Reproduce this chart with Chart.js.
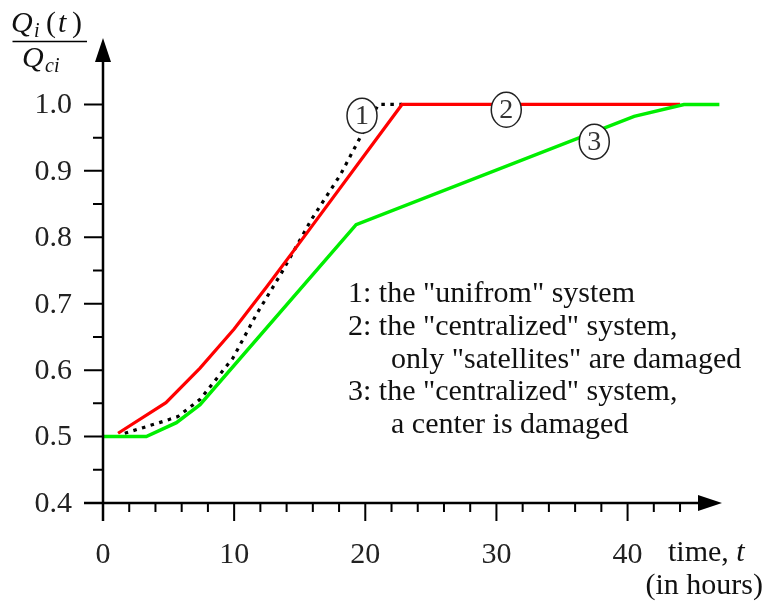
<!DOCTYPE html>
<html>
<head>
<meta charset="utf-8">
<script src="https://cdn.jsdelivr.net/npm/chart.js@4.4.1/dist/chart.umd.min.js"></script>
<style>
html,body{margin:0;padding:0;background:#fff;}
#wrap{width:764px;height:606px;position:relative;}
</style>
</head>
<body>
<div id="wrap"><canvas id="c" width="764" height="606"></canvas></div>
<script>
// ---- data ----
const curve1T = [1.66, 4.3, 5.7, 7.4, 9.9, 11.7, 13.6, 15.9, 18.1, 19.6, 21.0, 22.8];
const curve1V = [0.505, 0.521, 0.530, 0.556, 0.618, 0.684, 0.746, 0.827, 0.894, 0.950, 1.0, 1.0];
const curve2T = [1.15, 4.8, 7.4, 10.0, 12.5, 15.0, 22.8, 44.0];
const curve2V = [0.505, 0.551, 0.603, 0.662, 0.726, 0.792, 1.0, 1.0];
const curve3T = [0, 3.3, 5.6, 7.4, 19.3, 40.5, 44.3, 47.0];
const curve3V = [0.5, 0.5, 0.521, 0.548, 0.819, 0.982, 1.0, 1.0];

const xMajorTicks = [0, 10, 20, 30, 40];
const xMinorTicks = [2,4,6,8,12,14,16,18,22,24,26,28,32,34,36,38,42,44];
const yMajorTicks = [0.4, 0.5, 0.6, 0.7, 0.8, 0.9, 1.0];
const yMinorTicks = [0.45, 0.55, 0.65, 0.75, 0.85, 0.95];
const yTickLabels = ['0.4', '0.5', '0.6', '0.7', '0.8', '0.9', '1.0'];
const xTickLabels = ['0', '10', '20', '30', '40'];

// curve markers: label, t, value
const markerLabels = ['1', '2', '3'];
const markerT = [19.75, 30.75, 37.46];
const markerV = [0.983, 0.992, 0.944];

const legendLines = [
  {text: '1: the "unifrom" system', indent: false},
  {text: '2: the "centralized" system,', indent: false},
  {text: 'only "satellites" are damaged', indent: true},
  {text: '3: the "centralized" system,', indent: false},
  {text: 'a center is damaged', indent: true}
];

const toXY = (ts, vs) => ts.map((t, i) => ({x: t, y: vs[i]}));
const SERIF = '"Liberation Serif", "DejaVu Serif", serif';

const overlay = {
  id: 'overlay',
  afterDatasetsDraw(chart) {
    const ctx = chart.ctx, xs = chart.scales.x, ys = chart.scales.y;
    ctx.save();
    for (let i = 0; i < markerLabels.length; i++) {
      const px = xs.getPixelForValue(markerT[i]);
      const py = ys.getPixelForValue(markerV[i]);
      ctx.beginPath();
      ctx.ellipse(px, py, 15, 17.5, 0, 0, Math.PI * 2);
      ctx.fillStyle = '#fff';
      ctx.fill();
      ctx.lineWidth = 1.5;
      ctx.strokeStyle = '#222';
      ctx.stroke();
      ctx.fillStyle = '#333';
      ctx.font = '28px ' + SERIF;
      ctx.textAlign = 'center';
      ctx.textBaseline = 'middle';
      ctx.fillText(markerLabels[i], px, py + 1);
    }
    ctx.restore();
  },
  afterDraw(chart) {
    const ctx = chart.ctx, xs = chart.scales.x, ys = chart.scales.y;
    const ca = chart.chartArea;
    const x0 = xs.getPixelForValue(0), y0 = ys.getPixelForValue(0.4);
    ctx.save();
    ctx.strokeStyle = '#000';
    ctx.fillStyle = '#000';
    ctx.lineWidth = 2.5;
    ctx.beginPath();
    ctx.moveTo(x0, y0 + 18);
    ctx.lineTo(x0, ca.top + 20);
    ctx.moveTo(x0 - 19, y0);
    ctx.lineTo(ca.right - 20, y0);
    ctx.stroke();
    ctx.beginPath();
    ctx.moveTo(x0, ca.top);
    ctx.lineTo(x0 - 8, ca.top + 24);
    ctx.lineTo(x0 + 8, ca.top + 24);
    ctx.closePath();
    ctx.fill();
    ctx.beginPath();
    ctx.moveTo(ca.right, y0);
    ctx.lineTo(ca.right - 24, y0 - 8);
    ctx.lineTo(ca.right - 24, y0 + 8);
    ctx.closePath();
    ctx.fill();
    ctx.lineWidth = 2;
    ctx.beginPath();
    yMajorTicks.forEach(v => { const p = ys.getPixelForValue(v); ctx.moveTo(x0 - 19, p); ctx.lineTo(x0, p); });
    yMinorTicks.forEach(v => { const p = ys.getPixelForValue(v); ctx.moveTo(x0 - 10, p); ctx.lineTo(x0, p); });
    xMajorTicks.forEach(t => { const p = xs.getPixelForValue(t); ctx.moveTo(p, y0); ctx.lineTo(p, y0 + 18); });
    xMinorTicks.forEach(t => { const p = xs.getPixelForValue(t); ctx.moveTo(p, y0); ctx.lineTo(p, y0 + 9); });
    ctx.stroke();
    ctx.fillStyle = '#222';
    ctx.font = '30px ' + SERIF;
    ctx.textAlign = 'right';
    ctx.textBaseline = 'middle';
    yMajorTicks.forEach((v, i) => ctx.fillText(yTickLabels[i], 72, ys.getPixelForValue(v) + 1));
    ctx.textAlign = 'center';
    ctx.textBaseline = 'alphabetic';
    xMajorTicks.forEach((t, i) => ctx.fillText(xTickLabels[i], xs.getPixelForValue(t), 563));
    ctx.fillStyle = '#111';
    ctx.textAlign = 'left';
    ctx.font = '30px ' + SERIF;
    ctx.fillText('time, ', 668, 561);
    const w = ctx.measureText('time, ').width;
    ctx.font = 'italic 30px ' + SERIF;
    ctx.fillText('t', 668 + w, 561);
    ctx.font = '30px ' + SERIF;
    ctx.textAlign = 'right';
    ctx.fillText('(in hours)', 763, 594);
    // y title (fraction)
    ctx.textAlign = 'left';
    ctx.font = 'italic 30px ' + SERIF;
    ctx.fillText('Q', 11, 32);
    ctx.font = 'italic 20px ' + SERIF;
    ctx.fillText('i', 34, 37);
    ctx.font = '30px ' + SERIF;
    ctx.fillText('(', 46, 32);
    ctx.font = 'italic 30px ' + SERIF;
    ctx.fillText('t', 58, 32);
    ctx.font = '30px ' + SERIF;
    ctx.fillText(')', 72, 32);
    ctx.lineWidth = 1.5;
    ctx.beginPath();
    ctx.moveTo(12.5, 41.5);
    ctx.lineTo(87, 41.5);
    ctx.stroke();
    ctx.font = 'italic 30px ' + SERIF;
    ctx.fillText('Q', 22, 67);
    ctx.font = 'italic 20px ' + SERIF;
    ctx.fillText('ci', 45, 72);
    ctx.fillStyle = '#111';
    ctx.font = '30px ' + SERIF;
    legendLines.forEach((l, i) => ctx.fillText(l.text, l.indent ? 391 : 348, 302 + i * 32.8));
    ctx.restore();
  }
};

new Chart(document.getElementById('c'), {
  type: 'line',
  data: {
    datasets: [
      {data: toXY(curve3T, curve3V), borderColor: '#00ee00', borderWidth: 3.5, pointRadius: 0, tension: 0},
      {data: toXY(curve2T, curve2V), borderColor: '#ff0000', borderWidth: 3.2, pointRadius: 0, tension: 0},
      {data: toXY(curve1T, curve1V), borderColor: '#000000', borderWidth: 3.2, borderDash: [3.5, 5.5], pointRadius: 0, tension: 0}
    ]
  },
  options: {
    responsive: false,
    animation: false,
    devicePixelRatio: 1,
    layout: {padding: {left: 103, right: 42, top: 38, bottom: 103}},
    plugins: {legend: {display: false}, tooltip: {enabled: false}},
    scales: {
      x: {type: 'linear', min: 0, max: 47.2, display: false},
      y: {type: 'linear', min: 0.4, max: 1.1, display: false}
    }
  },
  plugins: [overlay]
});
</script>
</body>
</html>
